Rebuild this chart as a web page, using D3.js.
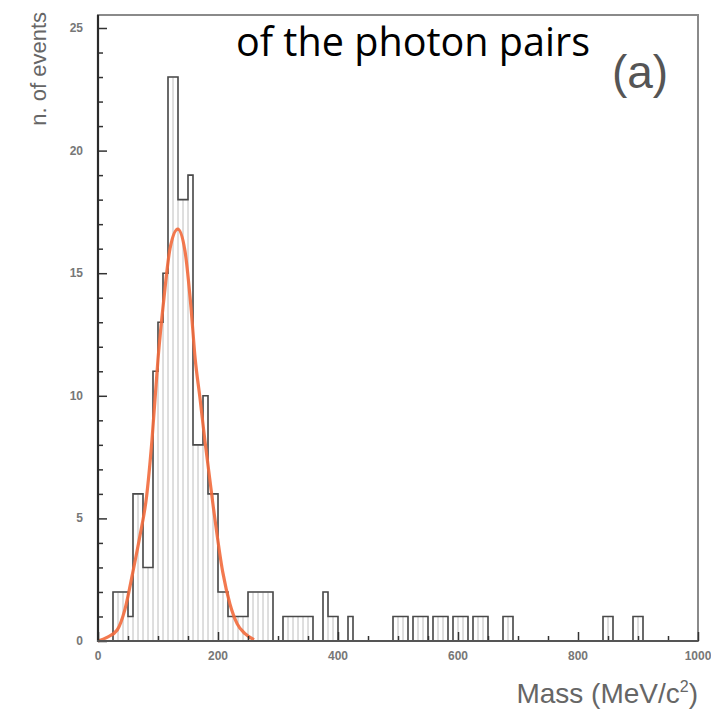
<!DOCTYPE html>
<html>
<head>
<meta charset="utf-8">
<script src="https://cdn.jsdelivr.net/npm/d3@7"></script>
<style>
  body { margin: 0; background: #fff; }
  svg { display: block; }
</style>
</head>
<body>
<svg></svg>
<script>
var width = 711;
var height = 715;
var svg = d3.select("svg").attr("width", width).attr("height", height);

// histogram: 120 bins over 0-1000 MeV/c2 (counts)
var binWidth = 1000 / 120;
var counts = [
  0, 0, 0, 2, 2, 2, 1, 6, 6, 3,
  3, 11, 13, 15, 23, 23, 18, 18, 19, 8,
  8, 10, 6, 6, 2, 2, 1, 1, 1, 1,
  2, 2, 2, 2, 2, 0, 0, 1, 1, 1,
  1, 1, 1, 0, 0, 2, 1, 1, 0, 0,
  1, 0, 0, 0, 0, 0, 0, 0, 0, 1,
  1, 1, 0, 1, 1, 1, 0, 1, 1, 1,
  0, 1, 1, 1, 0, 1, 1, 1, 0, 0,
  0, 1, 1, 0, 0, 0, 0, 0, 0, 0,
  0, 0, 0, 0, 0, 0, 0, 0, 0, 0,
  0, 1, 1, 0, 0, 0, 0, 1, 1, 0,
  0, 0, 0, 0, 0, 0, 0, 0, 0, 0
];

// gaussian fit, sampled from the drawn curve
var fitMass = [0, 15, 32, 45, 58, 70, 81, 90, 100, 110, 120, 133, 145, 155, 162, 170, 178, 192, 208, 220, 232, 245, 260];
var fitVal  = [0, 0.15, 0.45, 1.3, 2.8, 4.3, 5.9, 8.2, 11.5, 14.0, 16.0, 16.8, 15.9, 13.6, 11.5, 9.9, 8.2, 5.5, 2.8, 1.5, 0.7, 0.3, 0.05];

var yMajor = [0, 5, 10, 15, 20, 25];
var xMajor = [0, 200, 400, 600, 800, 1000];

var xScale = d3.scaleLinear().domain([0, 1000]).range([98, 698]);
var yScale = d3.scaleLinear().domain([0, 25]).range([641, 28]);

var plot = svg.append("g");

// frame
plot.append("rect")
  .attr("x", 98).attr("y", 15)
  .attr("width", 698 - 98).attr("height", 641 - 15)
  .attr("fill", "none")
  .attr("stroke", "#8a8a8a")
  .attr("stroke-width", 2);

// bars (faint inner edges)
var bins = counts.map(function(c, i) { return {x0: i * binWidth, x1: (i + 1) * binWidth, n: c}; });
plot.append("g")
  .selectAll("rect")
  .data(bins.filter(function(d) { return d.n > 0; }))
  .enter().append("rect")
  .attr("x", function(d) { return xScale(d.x0); })
  .attr("y", function(d) { return yScale(d.n); })
  .attr("width", function(d) { return xScale(d.x1) - xScale(d.x0); })
  .attr("height", function(d) { return yScale(0) - yScale(d.n); })
  .attr("fill", "none")
  .attr("stroke", "#d4d4d4")
  .attr("stroke-width", 1);

// outer outline of the histogram
var edges = bins.map(function(d) { return [d.x0, d.n]; });
edges.push([1000, 0]);
var step = d3.line()
  .x(function(d) { return xScale(d[0]); })
  .y(function(d) { return yScale(d[1]); })
  .curve(d3.curveStepAfter);

plot.append("path")
  .attr("d", step(edges))
  .attr("fill", "none")
  .attr("stroke", "#4a4a4a")
  .attr("stroke-width", 1.6);

// fit curve
var line = d3.line()
  .x(function(d, i) { return xScale(fitMass[i]); })
  .y(function(d) { return yScale(d); })
  .curve(d3.curveMonotoneX);

plot.append("path")
  .attr("d", line(fitVal))
  .attr("fill", "none")
  .attr("stroke", "#f26a3c")
  .attr("stroke-width", 3.2)
  .attr("stroke-opacity", 0.9);

// y axis (ticks inside)
var yAxis = d3.axisRight(yScale).tickValues(d3.range(0, 26)).tickSize(5).tickFormat("");
var yg = plot.append("g").attr("transform", "translate(98,0)").call(yAxis);
yg.selectAll(".tick line").attr("stroke", "#333").attr("stroke-width", 1.5)
  .attr("x2", function(d) { return d % 5 === 0 ? 9 : 5; });
yg.select(".domain").remove();

// x axis (ticks inside)
var xAxis = d3.axisTop(xScale).tickValues(d3.range(0, 1001, 50)).tickSize(5).tickFormat("");
var xg = plot.append("g").attr("transform", "translate(0,641)").call(xAxis);
xg.selectAll(".tick line").attr("stroke", "#333").attr("stroke-width", 1.5)
  .attr("y2", function(d) { return d % 200 === 0 ? -9 : -5; });
xg.select(".domain").remove();

// dark left and bottom axes
plot.append("line").attr("x1", 98).attr("x2", 98).attr("y1", 15).attr("y2", 642)
  .attr("stroke", "#2a2a2a").attr("stroke-width", 2.2);
plot.append("line").attr("x1", 97).attr("x2", 698).attr("y1", 641).attr("y2", 641)
  .attr("stroke", "#555").attr("stroke-width", 2);

// tick labels
svg.append("g").selectAll("text")
  .data(yMajor).enter().append("text")
  .attr("x", 83)
  .attr("y", function(d) { return yScale(d) + 4; })
  .attr("text-anchor", "end")
  .attr("font-family", "Liberation Sans, sans-serif")
  .attr("font-size", 12)
  .attr("font-weight", "bold")
  .attr("fill", "#777")
  .text(function(d) { return d; });

svg.append("g").selectAll("text")
  .data(xMajor).enter().append("text")
  .attr("x", function(d) { return xScale(d); })
  .attr("y", 660)
  .attr("text-anchor", "middle")
  .attr("font-family", "Liberation Sans, sans-serif")
  .attr("font-size", 12)
  .attr("font-weight", "bold")
  .attr("fill", "#777")
  .text(function(d) { return d; });

// axis titles
svg.append("text")
  .attr("transform", "translate(46,12) rotate(-90)")
  .attr("text-anchor", "end")
  .attr("font-family", "Liberation Sans, sans-serif")
  .attr("font-size", 22)
  .attr("fill", "#666")
  .text("n. of events");

var xt = svg.append("text")
  .attr("x", 698).attr("y", 703)
  .attr("text-anchor", "end")
  .attr("font-family", "Liberation Sans, sans-serif")
  .attr("font-size", 28)
  .attr("fill", "#666");
xt.append("tspan").text("Mass (MeV/c");
xt.append("tspan").attr("font-size", 16).attr("dy", -11).text("2");
xt.append("tspan").attr("dy", 11).text(")");

// panel label and overlay caption
svg.append("text")
  .attr("x", 640).attr("y", 88)
  .attr("text-anchor", "middle")
  .attr("font-family", "Liberation Sans Narrow, Liberation Sans, sans-serif")
  .attr("font-size", 46)
  .attr("fill", "#555")
  .text("(a)");

svg.append("text")
  .attr("x", 236).attr("y", 56)
  .attr("font-family", "Open Sans, sans-serif")
  .attr("font-size", 40)
  .attr("textLength", 354)
  .attr("lengthAdjust", "spacingAndGlyphs")
  .attr("fill", "#000")
  .text("of the photon pairs");
</script>
</body>
</html>
